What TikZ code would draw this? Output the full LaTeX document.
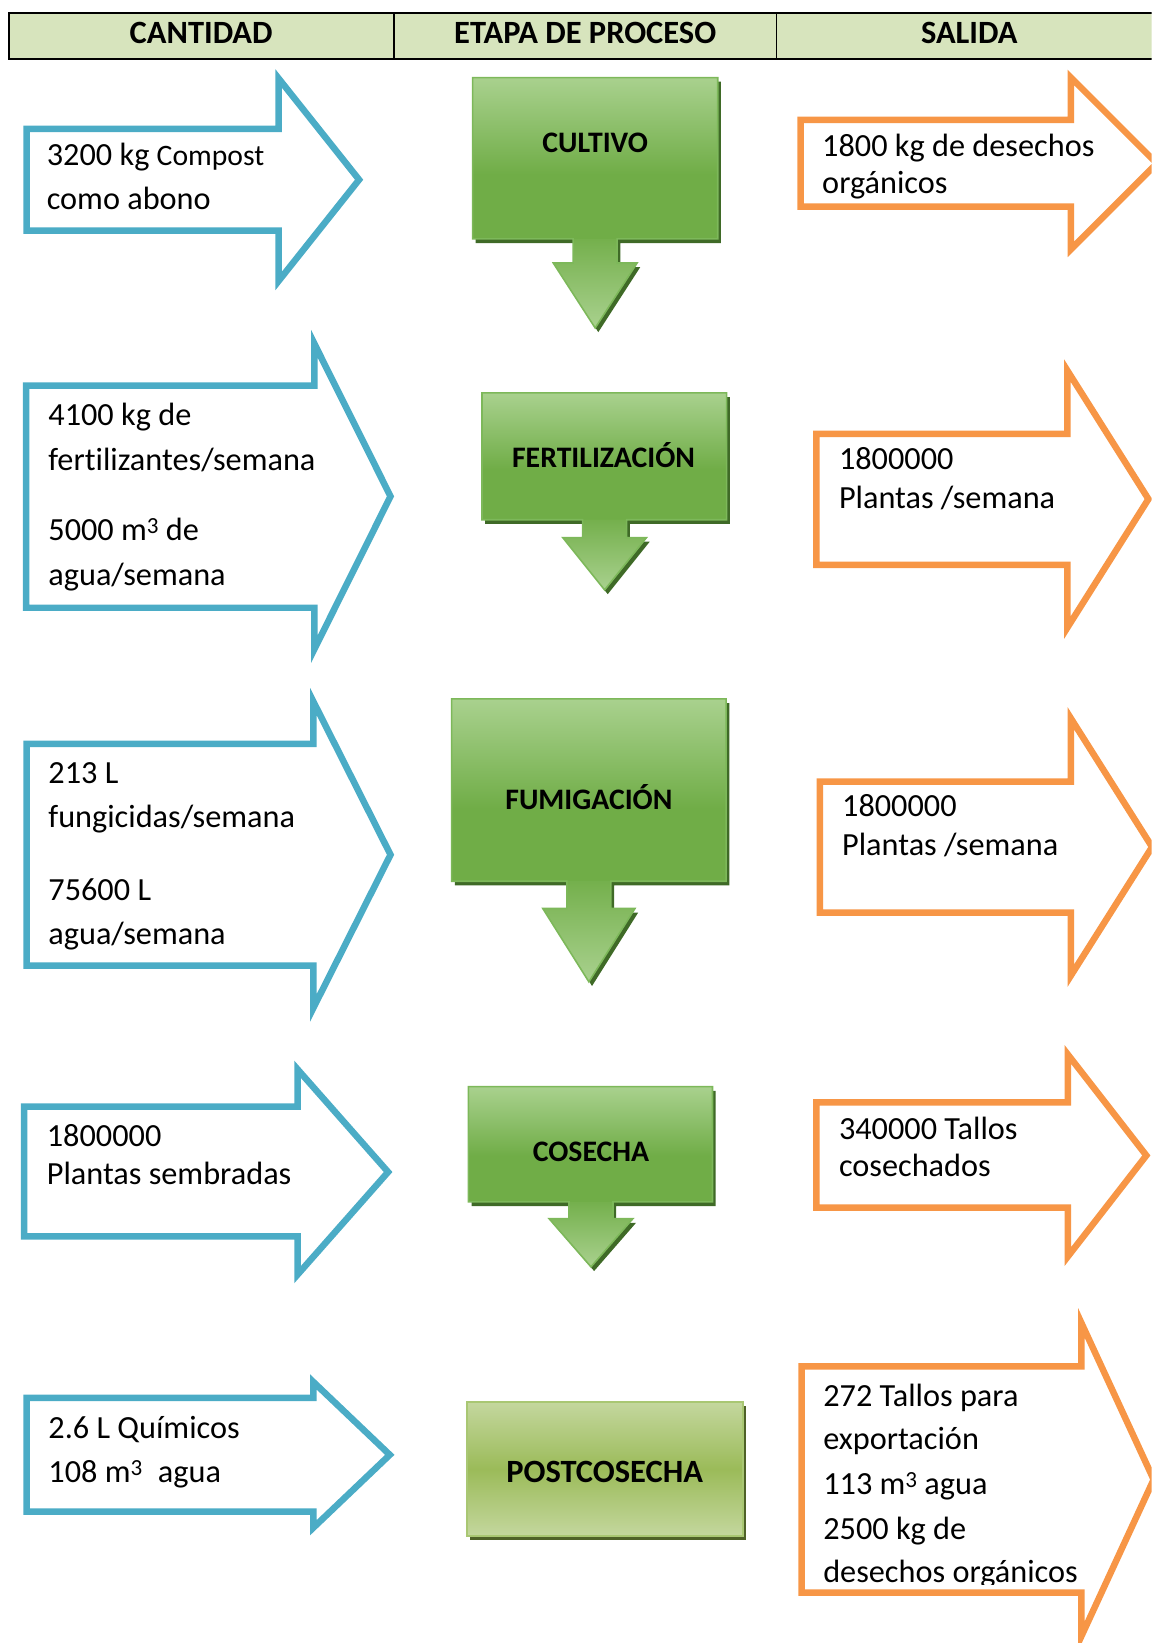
\documentclass[tikz,border=0pt]{standalone}
\usepackage{fontspec}
\setmainfont{Carlito}[Ligatures={NoCommon}]
\definecolor{hdrfill}{HTML}{D7E4BD}
\definecolor{inblue}{HTML}{4BACC6}
\definecolor{outorange}{HTML}{F79646}
\definecolor{gLight}{HTML}{A9D18E}
\definecolor{gDark}{HTML}{70AD47}
\definecolor{gEdge}{HTML}{7DB85A}
\definecolor{gShadow}{HTML}{3F6A27}
\definecolor{pLight}{HTML}{C4D79E}
\definecolor{pDark}{HTML}{9BBB59}
\definecolor{pEdge}{HTML}{A9C773}
\definecolor{pShadow}{HTML}{4F6228}
\pgfdeclareverticalshading{stageshade}{100bp}{color(0bp)=(gDark); color(25bp)=(gDark); color(45bp)=(gDark); color(75bp)=(gLight); color(100bp)=(gLight)}
\newcommand{\supthree}{\raisebox{6.5pt}{\fontsize{22}{22}\selectfont 3}}
% style, L, T, B, head x, head top, head bottom, tip x, tip y
\newcommand{\mybigarrow}[9]{\draw[#1] (#2,#3) -- (#5,#3) -- (#5,#6) -- (#8,#9) -- (#5,#7) -- (#5,#4) -- (#2,#4) -- cycle;}
% L, R, T, B, centre x, head y, tip y, head half width
\newcommand{\mystagepath}[8]{(#1,#3) -- (#2,#3) -- (#2,#4) -- ({#5+21},#4) -- ({#5+21},#6) -- ({#5+#8},#6) -- (#5,#7) -- ({#5-#8},#6) -- ({#5-21},#6) -- ({#5-21},#4) -- (#1,#4) -- cycle}
\newcommand{\mystage}[8]{%
  \fill[gShadow, shift={(3,4)}] \mystagepath{#1}{#2}{#3}{#4}{#5}{#6}{#7}{#8};
  \shade[shading=stageshade] (#1,#3) rectangle (#2,#4);
  \shade[top color=gDark!92!gLight, bottom color=gLight] ({#5-21},#4) -- ({#5+21},#4) -- ({#5+21},#6) -- ({#5+#8},#6) -- (#5,#7) -- ({#5-#8},#6) -- ({#5-21},#6) -- cycle;
  \draw[gEdge, line width=1.5pt, line join=miter] \mystagepath{#1}{#2}{#3}{#4}{#5}{#6}{#7}{#8};
}
\begin{document}
\begin{tikzpicture}[x=1pt,y=-1pt,
  inarrow/.style={draw=inblue, line width=6.2pt, line join=miter, fill=white},
  outarrow/.style={draw=outorange, line width=6.2pt, line join=miter, fill=white},
  bodytxt/.style={font=\fontsize{30.8}{36}\selectfont, inner sep=0pt, anchor=base west},
  hdrtxt/.style={font=\fontsize{31}{36}\selectfont\bfseries, inner sep=0pt, anchor=base},
  stagetxt/.style={font=\fontsize{28.4}{33}\selectfont\bfseries, inner sep=0pt, anchor=base},
  hdrline/.style={line width=1.8pt, draw=black}
]
\useasboundingbox (0,0) rectangle (1099,1568);
\clip (0,0) rectangle (1099,1568);

% header
\draw[hdrline, fill=hdrfill] (8.6,12) rectangle (1112,56);
\draw[hdrline] (376,12) -- (376,56);
\draw[hdrline] (741,12) -- (741,56);
\node[hdrtxt] (h1) at (192,41.3) {CANTIDAD};
\node[hdrtxt] (h2) at (558.5,41.3) {ETAPA DE PROCESO};
\node[hdrtxt] (h3) at (925,41.3) {SALIDA};

% input arrows
\mybigarrow{inarrow}{25.5}{123}{220}{266}{75}{268}{342.7}{171.5}
\mybigarrow{inarrow}{25}{368}{580}{300}{328}{619.5}{372.7}{473.7}
\mybigarrow{inarrow}{25.4}{710}{921.5}{299}{669.4}{962}{372.7}{815.7}
\mybigarrow{inarrow}{23}{1056}{1180}{284}{1020.5}{1216.4}{370.4}{1118.5}
\mybigarrow{inarrow}{25.4}{1334}{1442.5}{299}{1318.8}{1458}{372}{1388.4}

% output arrows
\mybigarrow{outarrow}{764}{114.5}{197.2}{1022}{74}{238}{1104}{156}
\mybigarrow{outarrow}{779}{414}{539}{1018.6}{353.6}{599}{1096}{476.3}
\mybigarrow{outarrow}{782.5}{746}{871}{1022}{685.6}{931}{1099.5}{808.3}
\mybigarrow{outarrow}{779}{1052}{1152.5}{1019.2}{1006.5}{1199}{1094}{1102.7}
\mybigarrow{outarrow}{765}{1304}{1520}{1032}{1262.5}{1561.5}{1101}{1412}

% process stages
\mystage{451}{685}{74}{228}{568}{251}{313}{40}
\mystage{460}{693.5}{375}{496}{577}{513}{563}{40}
\mystage{431}{693}{667}{841}{562}{867}{937}{44}
\mystage{447}{680}{1037}{1147}{564}{1163}{1209}{40}
\fill[pShadow, shift={(3,4)}] (445.5,1338) rectangle (709,1466);
\shade[top color=pLight, bottom color=pLight, middle color=pDark] (445.5,1338) rectangle (709,1466);
\draw[pEdge, line width=1.5pt] (445.5,1338) rectangle (709,1466);

\node[stagetxt] (s1) at (568,145.7) {CULTIVO};
\node[stagetxt] (s2) at (576,446.6) {FERTILIZACIÓN};
\node[stagetxt] (s3) at (562,773) {FUMIGACIÓN};
\node[stagetxt] (s4) at (564,1108) {COSECHA};
\node[stagetxt, font=\fontsize{31}{36}\selectfont\bfseries] (s5) at (577,1415) {POSTCOSECHA};

% input texts
\node[bodytxt] (a1a) at (44.5,158) {3200 kg {\fontsize{28.3}{33}\selectfont Compost}};
\node[bodytxt] (a1b) at (44.5,200) {como abono};
\node[bodytxt] (a2a) at (46,406.5) {4100 kg de};
\node[bodytxt] (a2b) at (46,449) {fertilizantes/semana};
\node[bodytxt] (a2c) at (46,516) {5000 m\supthree{} de};
\node[bodytxt] (a2d) at (46,559) {agua/semana};
\node[bodytxt] (a3a) at (46,748) {213 L};
\node[bodytxt] (a3b) at (46,790) {fungicidas/semana};
\node[bodytxt] (a3c) at (46,859.5) {75600 L};
\node[bodytxt] (a3d) at (46,901.5) {agua/semana};
\node[bodytxt] (a4a) at (44.5,1094) {1800000};
\node[bodytxt] (a4b) at (44.5,1130.5) {Plantas sembradas};
\node[bodytxt] (a5a) at (46,1373) {2.6 L Químicos};
\node[bodytxt] (a5b) at (46,1415) {108 m\supthree\hspace{15pt}agua};

% output texts
\node[bodytxt] (r1a) at (784.5,149.5) {1800 kg de desechos};
\node[bodytxt] (r1b) at (784.5,185) {orgánicos};
\node[bodytxt] (r2a) at (800.5,448.5) {1800000};
\node[bodytxt] (r2b) at (800.5,485) {Plantas /semana};
\node[bodytxt] (r3a) at (803.5,779.5) {1800000};
\node[bodytxt] (r3b) at (803.5,816) {Plantas /semana};
\node[bodytxt] (r4a) at (800.5,1087.5) {340000 Tallos};
\node[bodytxt] (r4b) at (800.5,1123) {cosechados};
\node[bodytxt] (r5a) at (785.5,1342) {272 Tallos para};
\node[bodytxt] (r5b) at (785.5,1383) {exportación};
\node[bodytxt] (r5c) at (785.5,1426) {113 m\supthree{} agua};
\node[bodytxt] (r5d) at (785.5,1469) {2500 kg de};
\begin{scope}
\clip (770,1480) rectangle (1070,1512);
\node[bodytxt] (r5e) at (785.5,1510) {desechos orgánicos};
\end{scope}
\end{tikzpicture}
\end{document}
